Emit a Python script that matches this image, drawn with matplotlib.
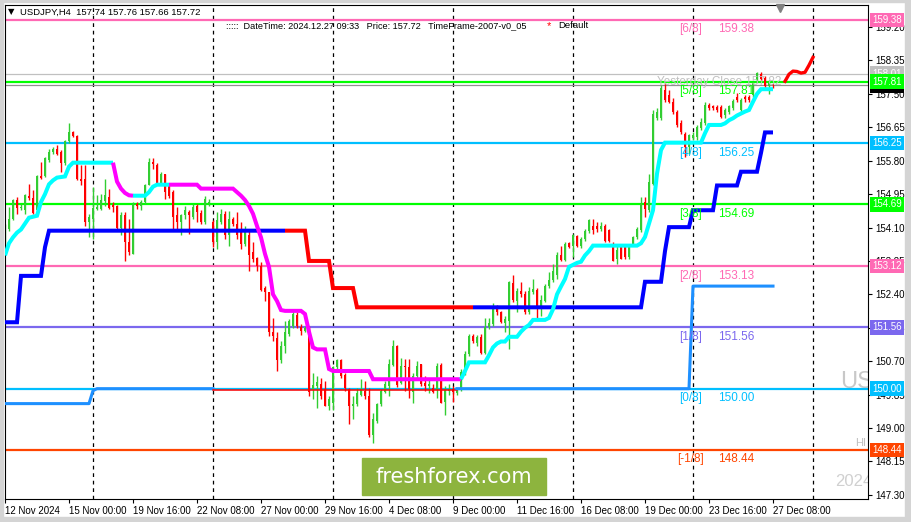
import matplotlib
matplotlib.use("Agg")
import matplotlib.pyplot as plt
import matplotlib.transforms as mtransforms
from matplotlib.patches import Rectangle
import numpy as np

plt.rcParams['font.family'] = ['Liberation Sans', 'DejaVu Sans']

# ---- data: USDJPY H4, bar 0 = Mon 18 Nov 2024 00:00 (25 Dec has no bars) ----
first_bar = -22

opens = [
    153.60, 154.07, 154.32, 154.79, 154.59, 154.54, 154.90, 154.86, 154.54, 155.41,
    155.41, 155.81, 156.03, 156.09, 156.03, 155.73, 156.29, 156.54, 156.43, 155.34,
    155.34, 154.25, 154.32, 154.58, 154.58, 154.77, 154.88, 154.68, 154.65, 154.08,
    154.41, 153.74, 153.43, 154.71, 154.65, 154.75, 155.19, 155.77, 155.70, 155.22,
    155.45, 155.19, 155.00, 154.41, 154.24, 154.41, 154.49, 154.37, 154.65, 154.47,
    154.25, 154.72, 154.24, 153.74, 154.24, 154.45, 153.90, 154.32, 154.19, 154.02,
    153.68, 153.91, 153.47, 153.32, 153.13, 152.55, 152.45, 151.45, 151.30, 150.73,
    151.09, 151.39, 151.60, 151.87, 151.58, 151.47, 151.55, 149.98, 150.08, 150.13,
    149.98, 149.57, 149.64, 150.54, 150.72, 150.34, 149.98, 149.56, 149.60, 149.85,
    149.94, 149.81, 148.83, 149.17, 149.60, 149.92, 150.08, 150.59, 151.09, 150.15,
    150.58, 150.54, 149.91, 150.32, 150.62, 150.15, 150.07, 150.02, 149.98, 150.60,
    149.66, 149.94, 150.00, 149.88, 149.98, 150.41, 150.88, 151.34, 151.17, 151.32,
    150.90, 151.58, 151.64, 152.11, 151.96, 151.68, 151.73, 152.69, 152.24, 152.49,
    152.41, 151.94, 152.47, 152.52, 152.03, 152.24, 152.60, 152.77, 152.88, 153.40,
    153.28, 153.71, 153.62, 153.88, 153.62, 153.80, 154.00, 154.15, 154.13, 154.07,
    154.15, 154.03, 153.69, 153.30, 153.65, 153.62, 153.35, 153.65, 153.86, 154.03,
    154.75, 154.54, 155.22, 156.88, 156.88, 157.60, 157.47, 157.30, 157.04, 156.75,
    156.49, 156.15, 156.37, 156.41, 156.62, 156.75, 157.22, 157.19, 157.17, 157.17,
    156.96, 157.04, 157.13, 157.43, 157.09, 157.43, 157.43, 157.47, 157.86, 158.00,
    157.90, 157.69, 157.74,
]
highs = [
    154.19, 154.62, 154.83, 154.88, 154.71, 154.96, 155.22, 155.05, 155.43, 155.77,
    155.90, 156.11, 156.15, 156.20, 156.07, 156.32, 156.75, 156.55, 156.45, 155.68,
    155.68, 154.45, 155.13, 154.92, 154.96, 155.34, 155.09, 154.75, 154.68, 154.49,
    154.49, 154.32, 154.75, 154.75, 154.79, 155.22, 155.87, 155.87, 155.73, 155.51,
    155.47, 155.22, 155.05, 154.62, 154.45, 154.65, 154.54, 154.71, 154.71, 154.55,
    154.90, 154.83, 154.30, 154.49, 154.58, 154.53, 154.53, 154.36, 154.49, 154.24,
    154.15, 154.02, 153.73, 153.34, 153.22, 152.62, 152.47, 151.81, 151.43, 151.22,
    151.72, 151.77, 151.98, 151.94, 151.64, 151.60, 151.60, 150.41, 150.32, 150.28,
    150.19, 149.81, 150.58, 150.75, 150.75, 150.41, 150.02, 149.81, 150.02, 150.24,
    150.19, 150.02, 149.39, 149.64, 149.98, 150.19, 150.75, 151.24, 151.12, 150.79,
    150.75, 150.75, 150.41, 150.71, 150.62, 150.32, 150.28, 150.11, 150.66, 150.66,
    150.07, 150.11, 150.07, 150.02, 150.49, 150.96, 151.39, 151.39, 151.36, 151.39,
    151.81, 151.79, 152.18, 152.13, 151.98, 151.85, 152.75, 152.88, 152.55, 152.72,
    152.49, 152.58, 152.79, 152.55, 152.38, 152.66, 152.96, 153.17, 153.47, 153.64,
    153.73, 153.74, 153.94, 153.91, 153.85, 154.07, 154.32, 154.32, 154.24, 154.24,
    154.20, 154.07, 153.73, 153.65, 153.69, 153.65, 153.69, 153.88, 154.11, 154.88,
    154.88, 155.47, 157.09, 157.13, 157.73, 157.77, 157.60, 157.39, 157.09, 156.83,
    156.53, 156.49, 156.53, 156.71, 156.88, 157.30, 157.26, 157.22, 157.22, 157.22,
    157.13, 157.22, 157.36, 157.52, 157.39, 157.47, 157.47, 157.81, 158.07, 158.07,
    157.96, 157.86, 157.76,
]
lows = [
    153.56, 154.02, 154.28, 154.45, 154.54, 154.45, 154.79, 154.45, 154.41, 155.34,
    155.39, 155.77, 155.98, 155.94, 155.51, 155.68, 156.24, 156.41, 155.30, 155.17,
    154.15, 153.85, 153.81, 154.54, 154.54, 154.66, 154.58, 154.49, 154.07, 153.90,
    153.26, 153.39, 153.43, 154.58, 154.54, 154.71, 155.17, 155.60, 155.17, 155.17,
    154.83, 154.85, 154.07, 154.07, 153.90, 154.32, 153.94, 154.32, 154.24, 154.20,
    154.20, 154.66, 153.60, 153.56, 154.20, 153.81, 153.64, 154.15, 153.81, 153.56,
    153.64, 153.00, 153.22, 153.00, 152.49, 152.24, 151.34, 151.22, 150.45, 150.66,
    150.92, 151.34, 151.55, 151.55, 151.36, 151.43, 149.81, 149.73, 149.51, 149.73,
    149.56, 149.47, 149.47, 150.49, 150.28, 149.94, 149.09, 149.22, 149.56, 149.81,
    149.73, 148.77, 148.62, 149.13, 149.56, 149.90, 149.81, 150.58, 150.05, 150.11,
    149.94, 149.77, 149.64, 150.24, 150.07, 149.94, 149.90, 149.90, 149.77, 149.64,
    149.34, 149.85, 149.66, 149.85, 149.94, 150.36, 150.83, 151.17, 151.09, 150.88,
    150.88, 151.51, 151.60, 151.87, 151.68, 151.43, 151.00, 152.21, 151.94, 152.32,
    151.90, 151.90, 152.41, 151.77, 151.85, 152.20, 152.55, 152.71, 152.79, 153.26,
    153.26, 153.57, 153.34, 153.60, 153.57, 153.77, 153.97, 153.94, 153.98, 154.00,
    153.73, 153.73, 153.24, 153.17, 153.30, 153.30, 153.30, 153.62, 153.81, 153.98,
    154.37, 154.49, 155.17, 156.83, 156.83, 157.30, 157.26, 157.00, 156.66, 156.49,
    155.90, 155.98, 156.32, 156.32, 156.58, 156.71, 157.09, 157.08, 157.04, 156.88,
    156.88, 157.00, 157.09, 157.30, 157.04, 157.30, 157.30, 157.43, 157.81, 157.86,
    157.66, 157.51, 157.66,
]
closes = [
    154.15, 154.32, 154.79, 154.60, 154.61, 154.92, 154.85, 154.48, 155.41, 155.36,
    155.87, 156.03, 156.11, 155.98, 155.73, 156.29, 156.54, 156.43, 155.34, 155.28,
    154.24, 154.36, 154.60, 154.62, 154.79, 154.92, 154.60, 154.62, 154.08, 154.41,
    153.74, 153.47, 154.71, 154.65, 154.75, 155.19, 155.77, 155.71, 155.22, 155.45,
    155.00, 154.90, 154.37, 154.24, 154.41, 154.54, 154.41, 154.62, 154.49, 154.24,
    154.83, 154.76, 153.74, 154.28, 154.45, 153.90, 154.32, 154.19, 153.90, 153.68,
    153.98, 153.40, 153.30, 153.13, 152.52, 152.45, 151.45, 151.34, 150.73, 151.09,
    151.43, 151.72, 151.90, 151.60, 151.47, 151.55, 149.91, 150.10, 150.17, 149.81,
    149.57, 149.73, 150.54, 150.72, 150.32, 150.02, 149.57, 149.62, 149.90, 149.98,
    149.81, 148.81, 149.22, 149.60, 149.94, 150.11, 150.62, 151.09, 150.10, 150.58,
    150.54, 149.98, 150.32, 150.58, 150.11, 150.07, 150.11, 149.91, 150.58, 149.64,
    149.98, 150.00, 149.91, 149.98, 150.43, 150.88, 151.34, 151.22, 151.32, 150.90,
    151.56, 151.67, 152.07, 151.94, 151.70, 151.77, 152.71, 152.26, 152.49, 152.41,
    151.96, 152.49, 152.54, 152.03, 152.26, 152.60, 152.77, 153.00, 153.40, 153.28,
    153.68, 153.60, 153.91, 153.62, 153.80, 154.02, 154.28, 154.03, 154.07, 154.15,
    153.77, 153.77, 153.26, 153.52, 153.31, 153.35, 153.65, 153.86, 154.07, 154.71,
    154.58, 155.26, 157.00, 157.04, 157.64, 157.34, 157.30, 157.04, 156.71, 156.54,
    156.15, 156.45, 156.45, 156.66, 156.79, 157.22, 157.13, 157.13, 157.09, 156.92,
    157.09, 157.19, 157.32, 157.34, 157.34, 157.36, 157.34, 157.77, 158.03, 157.87,
    157.70, 157.77, 157.72,
]

# trailing stop (blue = up, red = down): vertices (bar, price)
trail_pts = [(-22, 151.69), (-19, 151.69), (-18, 152.87), (-13, 152.87), (-12, 153.60),
             (-11, 154.02), (48, 154.02), (53, 154.02), (54, 153.25), (59, 153.25),
             (60, 152.56), (65, 152.56), (66, 152.07), (95, 152.07), (137, 152.07),
             (138, 152.72), (142, 152.72), (143, 153.50), (144, 154.11), (149, 154.11),
             (150, 154.54), (155, 154.54), (156, 155.17), (161, 155.17), (162, 155.52),
             (166, 155.52), (167, 156.00), (168, 156.52), (170, 156.52)]
trail_trend = [(-22, 48, 'up'), (48, 95, 'down'), (95, 170, 'up')]

# second trailing line (cyan = up, magenta = down)
trail2_pts = [(-22, 153.39), (-21, 153.70), (-20, 153.85), (-19, 153.97), (-18, 154.05),
              (-17, 154.20), (-16, 154.35), (-14, 154.40), (-13, 154.75), (-12, 154.95),
              (-11, 155.20), (-10, 155.30), (-9, 155.37), (-7, 155.40), (-6, 155.65),
              (-5, 155.75), (5, 155.75), (6, 155.27), (7, 155.09), (8, 154.98), (9, 154.92),
              (10, 154.91), (13, 154.91), (14, 155.00), (15, 155.14), (16, 155.19),
              (19, 155.19), (26, 155.19), (27, 155.09), (35, 155.09), (36, 155.00),
              (37, 154.91), (38, 154.80), (39, 154.65), (40, 154.45), (41, 154.14),
              (42, 153.85), (43, 153.43), (44, 153.10), (45, 152.40), (46, 152.23),
              (47, 152.00), (48, 151.98), (52, 151.98), (53, 151.90), (54, 151.45),
              (55, 151.05), (56, 151.00), (58, 151.00), (59, 150.50), (60, 150.45),
              (69, 150.45), (70, 150.24), (92, 150.24), (93, 150.45), (94, 150.67),
              (98, 150.67), (99, 150.85), (100, 151.05), (101, 151.15), (102, 151.20),
              (103, 151.20), (104, 151.32), (106, 151.32), (107, 151.45), (108, 151.55),
              (109, 151.62), (110, 151.75), (113, 151.75), (114, 151.80), (115, 152.02),
              (116, 152.40), (117, 152.60), (118, 152.79), (119, 153.10), (120, 153.15),
              (121, 153.20), (122, 153.23), (123, 153.39), (124, 153.50), (125, 153.64),
              (136, 153.64), (137, 153.70), (138, 153.86), (139, 154.20), (140, 154.54),
              (141, 155.47), (142, 156.07), (143, 156.26), (152, 156.26), (153, 156.50),
              (154, 156.71), (157, 156.71), (158, 156.75), (159, 156.83), (160, 156.88),
              (161, 156.95), (162, 157.00), (163, 157.05), (164, 157.09), (165, 157.30),
              (166, 157.50), (167, 157.62), (170, 157.62)]
trail2_trend = [(-22, 5, 'up'), (5, 10, 'down'), (10, 19, 'up'), (19, 92, 'down'), (92, 170, 'up')]

# lower stop line
low_stop_up1 = [(-22, 149.62), (-1, 149.62), (0, 149.95), (1, 150.00), (30, 150.00)]
low_stop_down = [(30, 149.96), (91, 149.96)]
low_stop_up2 = [(91, 150.00), (149, 150.00), (150, 152.61), (170, 152.61)]

# projection
forecast_bars = [173, 174, 175, 176, 177, 178, 179, 180]
forecast_prices = [157.82, 158.00, 158.08, 158.07, 158.03, 158.05, 158.23, 158.43]

# Murrey math levels
mm_levels = [159.38, 157.81, 156.25, 154.69, 153.12, 151.56, 150.00, 148.44]
mm_names = ['[6/8]', '[5/8]', '[4/8]', '[3/8]', '[2/8]', '[1/8]', '[0/8]', '[-1/8]']
mm_texts = ['159.38', '157.81', '156.25', '154.69', '153.13', '151.56', '150.00', '148.44']
mm_colors = ['#ff69b4', '#00ff00', '#00bfff', '#00ff00', '#ff69b4', '#7b68ee', '#00bfff', '#ff4500']

yesterday_close = 157.82
silver_level = 158.01
bid = 157.72

week_starts = [0, 30, 60, 90, 120, 150, 180]
tick_bars = [-22, -6, 10, 26, 42, 58, 74, 90, 106, 122, 138, 154, 170]
tick_labels = ['12 Nov 2024', '15 Nov 00:00', '19 Nov 16:00', '22 Nov 08:00', '27 Nov 00:00',
               '29 Nov 16:00', '4 Dec 08:00', '9 Dec 00:00', '11 Dec 16:00', '16 Dec 08:00',
               '19 Dec 00:00', '23 Dec 16:00', '27 Dec 08:00']
price_ticks = [147.30, 148.15, 149.00, 149.85, 150.70, 151.55, 152.40, 153.25,
               154.10, 154.95, 155.80, 156.65, 157.50, 158.35, 159.20]

# ---- figure ----
W, H = 911, 522
fig = plt.figure(figsize=(W / 100, H / 100), dpi=100)
fig.patch.set_facecolor('white')
ax = fig.add_axes([5 / W, 23 / H, 863 / W, 494 / H])
ax.set_xlim(-22, -22 + 863 / 4)
ax.set_ylim(147.193, 159.762)

for s in ax.spines.values():
    s.set_color('black')
    s.set_linewidth(0.8)

# week separators
for wb in week_starts:
    ax.axvline(wb, color='black', ls=(0, (3, 3)), lw=0.9, zorder=1)

# horizontal levels
for lvl, col in zip(mm_levels, mm_colors):
    ax.axhline(lvl, color=col, lw=1.6, zorder=1.2)
ax.axhline(silver_level, color='#c0c0c0', lw=0.9, zorder=1.1)
ax.axhline(bid, color='#909090', lw=0.9, zorder=1.1)

# candles
bars = np.arange(first_bar, first_bar + len(closes))
o = np.array(opens); h = np.array(highs); l = np.array(lows); c = np.array(closes)
up = c >= o
cols = np.where(up, '#32cd32', '#ff0000')
ax.vlines(bars, l, h, colors=cols, lw=1.0, zorder=2)
body_lo = np.minimum(o, c)
body_h = np.maximum(np.abs(c - o), 0.03)
ax.bar(bars, body_h, bottom=body_lo, width=0.72, color=cols, linewidth=0, zorder=2.1)


def draw_trend_line(pts, trend, up_col, dn_col, lw):
    for a, b, t in trend:
        seg = [(x, y) for x, y in pts if a <= x <= b]
        xs, ys = zip(*seg)
        ax.plot(xs, ys, color=up_col if t == 'up' else dn_col, lw=lw,
                solid_joinstyle='miter', solid_capstyle='butt', zorder=3)


draw_trend_line(trail_pts, trail_trend, '#0000ff', '#ff0000', 2.9)
draw_trend_line(trail2_pts, trail2_trend, '#00ffff', '#ff00ff', 2.9)

for seg, col, lw in [(low_stop_up1, '#1e90ff', 2.2), (low_stop_down, '#ff0000', 1.1),
                     (low_stop_up2, '#1e90ff', 2.2)]:
    xs, ys = zip(*seg)
    ax.plot(xs, ys, color=col, lw=lw, zorder=2.9)

ax.plot(forecast_bars, forecast_prices, color='#ff0000', lw=2.4, zorder=3)

# Murrey labels
for lvl, nm, tx, col in zip(mm_levels, mm_names, mm_texts, mm_colors):
    ax.annotate(nm, (149.5, lvl), xytext=(0, -2.5), textcoords='offset points',
                ha='center', va='top', fontsize=8.5, color=col, zorder=4)
    ax.annotate(tx, (160.8, lvl), xytext=(0, -2.5), textcoords='offset points',
                ha='center', va='top', fontsize=8.5, color=col, zorder=4)

ax.text(141, 157.80, 'Yesterday Close 157.82', fontsize=8.5, color='#c0c0c0',
        ha='left', va='center', zorder=4)

# watermark pieces (clipped by plot edge)
ax.text(186.75, 150.17, 'USDJPY', fontsize=17, color='#c8c8c8', ha='left', va='center',
        clip_on=True, zorder=0.5)
ax.text(190.5, 148.62, 'HI', fontsize=8, color='#c0c0c0', ha='left', va='center',
        clip_on=True, zorder=0.5)
ax.text(185.5, 147.63, '2024', fontsize=12, color='#d0d0d0', ha='left', va='center',
        clip_on=True, zorder=0.5)

# chart-shift marker
ax.plot([171.75], [159.685], marker='v', ms=6, color='#808080', clip_on=False, zorder=5)

# axes ticks
ax.yaxis.tick_right()
ax.set_yticks(price_ticks)
ax.set_yticklabels([f'{p:.2f}' for p in price_ticks])
ax.tick_params(axis='y', length=3, width=0.8, labelsize=7, pad=2)
ax.set_xticks(tick_bars)
ax.set_xticklabels(tick_labels, ha='left')
ax.tick_params(axis='x', length=3, width=0.8, labelsize=7, pad=2)

# price tags on the axis
trans = mtransforms.blended_transform_factory(ax.transAxes, ax.transData)
tags = [(mm_levels[0], '159.38', mm_colors[0]), (silver_level, '158.01', '#c0c0c0'),
        (bid, '157.72', '#000000'), (mm_levels[1], '157.81', '#00ff00'),
        (mm_levels[2], '156.25', mm_colors[2]), (mm_levels[3], '154.69', mm_colors[3]),
        (mm_levels[4], '153.12', mm_colors[4]), (mm_levels[5], '151.56', mm_colors[5]),
        (mm_levels[6], '150.00', mm_colors[6]), (mm_levels[7], '148.44', mm_colors[7])]
for p, t, fc in tags:
    ax.text(1.0 + 4 / 863, p, t, transform=trans, fontsize=7, color='white',
            ha='left', va='center', clip_on=False, zorder=6,
            bbox=dict(boxstyle='square,pad=0.25', fc=fc, ec='none'))

# header texts
fig.text(8 / W, 1 - 12 / H, '\u25bc', fontsize=6, color='black', va='center',
         family=['DejaVu Sans'])
fig.text(20 / W, 1 - 12 / H, 'USDJPY,H4  157.74 157.76 157.66 157.72', fontsize=6.8,
         color='black', va='center')
fig.text(226 / W, 1 - 26 / H,
         ':::::  DateTime: 2024.12.27 09:33   Price: 157.72   TimeFrame-2007-v0_05',
         fontsize=6.6, color='black', va='center')
fig.text(547 / W, 1 - 26 / H, '*', fontsize=8, color='#ff0000', va='center')
fig.text(558 / W, 1 - 26 / H, 'Default', fontsize=6.8, color='black', va='center')

# freshforex logo
fig.patches.append(Rectangle((362 / W, 1 - 495 / H), 184 / W, 37 / H,
                             transform=fig.transFigure, color='#8db43e', zorder=10))
fig.text(454 / W, 1 - 477 / H, 'freshforex.com', fontsize=15, color='white',
         ha='center', va='center', zorder=11, family=['DejaVu Sans'])

# window frame
for rx, ry, rw, rh in [(0, 0, 3, H), (W - 6, 0, 6, H), (0, 0, W, 5), (0, H - 2, W, 2)]:
    fig.patches.append(Rectangle((rx / W, ry / H), rw / W, rh / H,
                                 transform=fig.transFigure, color='#d4d4d4', zorder=0))

fig.savefig('out.png', dpi=100)
